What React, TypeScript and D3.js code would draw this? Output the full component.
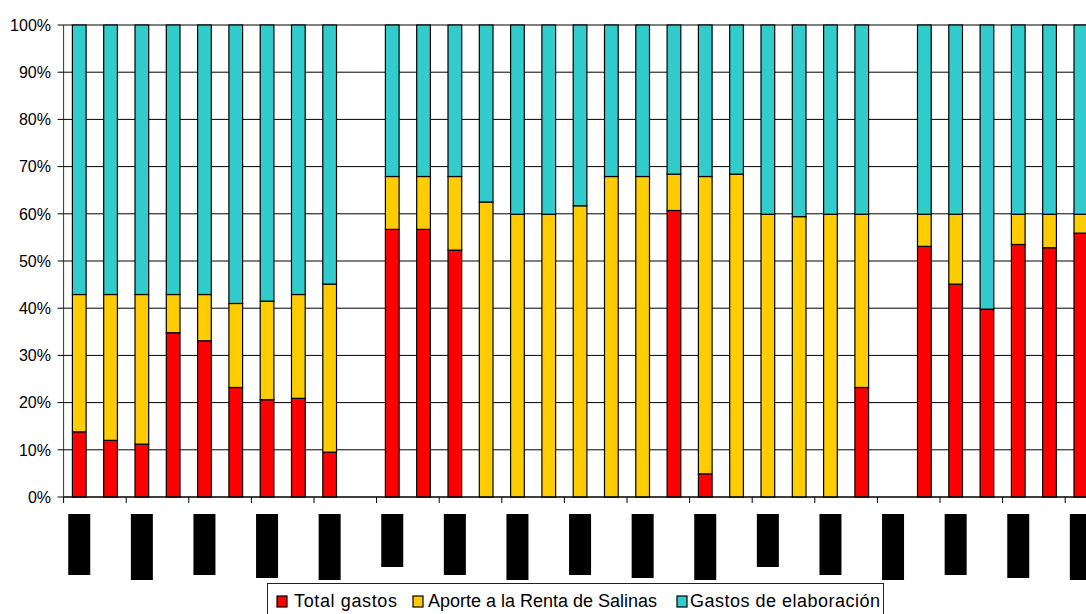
import React from "react";
import * as d3 from "d3";

// Periods on the category axis (labels are redacted in the printout)
const periods: string[] = d3.range(33).map((i) => `P${i + 1}`);

// Shares per period, in percent
const totalGastos: number[] = [
  13.8, 12.0, 11.2, 34.8, 33.1, 23.2, 20.6, 20.9, 9.5, 0,
  56.7, 56.7, 52.3, 0, 0, 0, 0, 0, 0, 60.7, 4.9, 0, 0, 0, 0, 23.2, 0,
  53.1, 45.1, 39.8, 53.5, 52.8, 55.9,
];
const aporteRenta: number[] = [
  29.1, 30.9, 31.7, 8.1, 9.8, 17.8, 20.9, 22.0, 35.6, 0,
  11.2, 11.2, 15.6, 62.5, 59.9, 59.9, 61.7, 67.9, 67.9, 7.7, 63.0, 68.4, 59.9, 59.4, 59.9, 36.7, 0,
  6.8, 14.8, 0, 6.4, 7.1, 4.0,
];
const gastosElaboracion: number[] = [
  57.1, 57.1, 57.1, 57.1, 57.1, 59.0, 58.5, 57.1, 54.9, 0,
  32.1, 32.1, 32.1, 37.5, 40.1, 40.1, 38.3, 32.1, 32.1, 31.6, 32.1, 31.6, 40.1, 40.6, 40.1, 40.1, 0,
  40.1, 40.1, 60.2, 40.1, 40.1, 40.1,
];

const seriesNames = ["Total gastos", "Aporte a la Renta de Salinas", "Gastos de elaboración"];
const seriesColors = ["#FF0000", "#FFCC00", "#33CCCC"];

const yTicks = [0, 0.1, 0.2, 0.3, 0.4, 0.5, 0.6, 0.7, 0.8, 0.9, 1];

// Lengths of the blacked-out (rotated) labels, one for every second period
const redactedLabelLen: number[] = [61, 66, 61, 64, 66, 53, 61, 66, 61, 64, 66, 53, 61, 66, 61, 64, 66];

const W = 1086;
const H = 614;
const FONT = "'Liberation Sans', Arial, sans-serif";

export default function App() {
  const plotLeft = 63.6;
  const step = 31.3;
  const plotTop = 25;
  const plotBottom = 497;
  const plotRight = plotLeft + periods.length * step;

  const x = d3.scaleBand<string>().domain(periods).range([plotLeft, plotRight]).padding(0);
  const y = d3.scaleLinear().domain([0, 1]).range([plotBottom, plotTop]);

  const rows = periods.map((p, i) => ({
    p,
    a: totalGastos[i],
    b: aporteRenta[i],
    c: gastosElaboracion[i],
  }));
  const stack = d3
    .stack<any>()
    .keys(["a", "b", "c"])
    .offset(d3.stackOffsetExpand);
  const layers = stack(rows);

  const barW = 13.7;

  // Tick marks between every second category
  const tickIdx = d3.range(0, periods.length + 1, 2);

  const legendItems = [
    { sx: 277, tx: 294, len: 103 },
    { sx: 413, tx: 428, len: 229 },
    { sx: 677, tx: 690, len: 190 },
  ];

  return (
    <div style={{ position: "fixed", left: 0, top: 0 }}>
      <svg width={W} height={H} style={{ display: "block", background: "#fff" }}>
        {/* gridlines */}
        {yTicks.map((t) => (
          <line
            key={"g" + t}
            x1={plotLeft}
            x2={W}
            y1={y(t)}
            y2={y(t)}
            stroke="#000"
            strokeWidth={1}
          />
        ))}

        {/* bars */}
        {layers.map((layer, li) =>
          layer.map((d, i) => {
            const y0 = d[0];
            const y1 = d[1];
            if (!isFinite(y0) || !isFinite(y1) || y1 - y0 <= 0) return null;
            const cx = (x(periods[i]) as number) + x.bandwidth() / 2;
            return (
              <rect
                key={`b${li}-${i}`}
                x={cx - barW / 2}
                y={y(y1)}
                width={barW}
                height={y(y0) - y(y1)}
                fill={seriesColors[li]}
                stroke="#000"
                strokeWidth={1.2}
              />
            );
          })
        )}

        {/* y axis */}
        <line x1={plotLeft} x2={plotLeft} y1={plotTop} y2={plotBottom} stroke="#333" strokeWidth={1} />
        {yTicks.map((t) => (
          <g key={"yt" + t}>
            <line x1={plotLeft - 6} x2={plotLeft} y1={y(t)} y2={y(t)} stroke="#000" strokeWidth={1} />
            <text
              x={51}
              y={y(t)}
              dy="0.36em"
              textAnchor="end"
              fontFamily={FONT}
              fontSize={16}
              fill="#000"
            >
              {d3.format(".0%")(t)}
            </text>
          </g>
        ))}

        {/* x axis */}
        <line x1={plotLeft} x2={W} y1={plotBottom} y2={plotBottom} stroke="#000" strokeWidth={1} />
        {tickIdx.map((k) => {
          const tx = plotLeft + k * x.step();
          return (
            <line key={"xt" + k} x1={tx} x2={tx} y1={plotBottom} y2={plotBottom + 6} stroke="#000" strokeWidth={1} />
          );
        })}

        {/* redacted category labels */}
        {redactedLabelLen.map((len, j) => {
          const p = periods[j * 2];
          const cx = (x(p) as number) + x.bandwidth() / 2;
          return <rect key={"lb" + j} x={cx - 11} y={514} width={22} height={len} fill="#000" />;
        })}

        {/* legend */}
        <rect x={267.5} y={583.5} width={616} height={40} fill="#fff" stroke="#222" strokeWidth={1} />
        {seriesNames.map((name, i) => (
          <g key={"lg" + i}>
            <rect
              x={legendItems[i].sx}
              y={596}
              width={10}
              height={11}
              fill={seriesColors[i]}
              stroke="#000"
              strokeWidth={1.2}
            />
            <text
              x={legendItems[i].tx}
              y={607}
              fontFamily={FONT}
              fontSize={18}
              fill="#000"
              textLength={legendItems[i].len}
              lengthAdjust="spacing"
            >
              {name}
            </text>
          </g>
        ))}
      </svg>
    </div>
  );
}
